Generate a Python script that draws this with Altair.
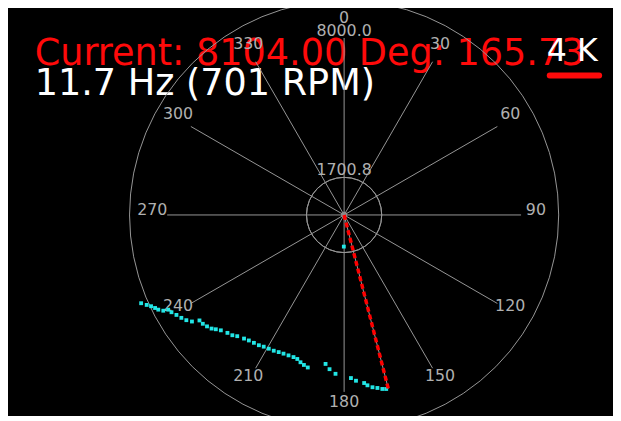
import math
import altair as alt
import pandas as pd

# ---------------- data ----------------
spoke_angles = [0, 30, 60, 90, 120, 150, 180, 210, 240, 270, 300, 330]
spoke_labels = ["0", "30", "60", "90", "120", "150", "180", "210", "240", "270", "300", "330"]
ring_values = [1700.8, 8000.0]
ring_labels = ["1700.8", "8000.0"]

point_angles = [246.5, 245.5, 244.7, 243.8, 243.0, 242.1, 241.7, 240.6, 239.2, 237.7,
                236.3, 235.0, 233.9, 232.4, 230.9, 229.4, 228.3, 226.9, 224.7, 222.9,
                221.4, 219.0, 217.2, 215.2, 213.2, 211.4, 209.4, 207.4, 205.5, 203.6,
                201.6, 199.6, 198.0, 196.5, 195.0, 193.4, 187.1, 185.4, 183.1, 177.6,
                175.9, 173.2, 172.2, 170.65, 169.1, 167.6, 166.4, 180.5]
point_radii = [10006, 9808, 9654, 9525, 9428, 9250, 9032, 8958, 8825, 8705,
               8573, 8398, 8093, 8063, 7987, 7892, 7768, 7633, 7499, 7423,
               7306, 7190, 7123, 7074, 7038, 6976, 6940, 6913, 6869, 6842,
               6828, 6820, 6846, 6945, 7020, 7088, 6787, 7003, 7192, 7380,
               7514, 7652, 7773, 7894, 7965, 8054, 8094, 1430]

needle_angle = [165.73]
needle_radius = [8104.0]

title_text = ["Current: 8104.00 Deg: 165.73"]
freq_text = ["11.7 Hz (701 RPM)"]
badge_text = ["4 K"]

# ---------------- layout ----------------
W, H = 612, 408
CX, CY = 340, 207          # polar centre inside the plot area (px)
R_PX = 179                 # pixel radius of the outer ring
R_MAX = 8000.0
K = R_MAX / R_PX
LABEL_R = 194 * K
FONT = "DejaVu Sans"
GRID = "#979797"
LABEL = "#b0b0b0"
CYAN = "#22e6e6"

xs = alt.Scale(domain=[-CX * K, (W - CX) * K], nice=False, zero=False)
ys = alt.Scale(domain=[-(H - CY) * K, CY * K], nice=False, zero=False)

POLX = "datum.r * sin(datum.a * PI / 180)"
POLY = "datum.r * cos(datum.a * PI / 180)"

spokes_df = pd.DataFrame({"a": spoke_angles, "r": [R_MAX] * len(spoke_angles)})
spoke_lab_df = pd.DataFrame({"a": spoke_angles, "r": [LABEL_R] * len(spoke_angles), "t": spoke_labels})
rings_df = pd.DataFrame({"r": ring_values, "t": ring_labels})
pts_df = pd.DataFrame({"a": point_angles, "r": point_radii})
needle_df = pd.DataFrame({"a": needle_angle, "r": needle_radius})

# texts (drawn underneath the polar grid)
title = alt.Chart(pd.DataFrame({"t": title_text})).mark_text(
    font=FONT, fontSize=37, color="#ff0a0a", align="left", baseline="alphabetic"
).encode(x=alt.value(27), y=alt.value(55), text="t:N")

freq = alt.Chart(pd.DataFrame({"t": freq_text})).mark_text(
    font=FONT, fontSize=37, color="white", align="left", baseline="alphabetic"
).encode(x=alt.value(27), y=alt.value(86), text="t:N")

rings = alt.Chart(rings_df).transform_calculate(cx="0", cy="0").mark_arc(
    fillOpacity=0, stroke=GRID, strokeWidth=1
).encode(
    x=alt.X("cx:Q", scale=xs, axis=None),
    y=alt.Y("cy:Q", scale=ys, axis=None),
    theta=alt.value(0),
    theta2=alt.value(2 * math.pi),
    radius=alt.Radius("r:Q", scale=alt.Scale(type="linear", domain=[0, R_MAX], range=[0, R_PX])),
)

spokes = alt.Chart(spokes_df).transform_calculate(
    x=POLX, y=POLY, x0="0", y0="0"
).mark_rule(color=GRID, strokeWidth=1).encode(
    x=alt.X("x0:Q", scale=xs, axis=None),
    y=alt.Y("y0:Q", scale=ys, axis=None),
    x2="x:Q",
    y2="y:Q",
)

spoke_labels_layer = alt.Chart(spoke_lab_df).transform_calculate(
    x=POLX, y=POLY
).mark_text(font=FONT, fontSize=16, color=LABEL, align="center", baseline="alphabetic").encode(
    x=alt.X("x:Q", scale=xs, axis=None),
    y=alt.Y("y:Q", scale=ys, axis=None),
    text="t:N",
)

ring_labels_layer = alt.Chart(rings_df).transform_calculate(x="0", y="datum.r").mark_text(
    font=FONT, fontSize=16, color=LABEL, align="center", baseline="alphabetic", dy=-2
).encode(
    x=alt.X("x:Q", scale=xs, axis=None),
    y=alt.Y("y:Q", scale=ys, axis=None),
    text="t:N",
)

centre = alt.Chart(pd.DataFrame({"x": [0], "y": [0]})).mark_circle(
    color="#8a8a8a", size=40, opacity=1
).encode(x=alt.X("x:Q", scale=xs, axis=None), y=alt.Y("y:Q", scale=ys, axis=None))

points = alt.Chart(pts_df).transform_calculate(x=POLX, y=POLY).mark_square(
    color=CYAN, size=15, opacity=1
).encode(x=alt.X("x:Q", scale=xs, axis=None), y=alt.Y("y:Q", scale=ys, axis=None))

needle_base = alt.Chart(needle_df).transform_calculate(x=POLX, y=POLY, x0="0", y0="0")
needle_grey = needle_base.mark_rule(color="#9a9a9a", strokeWidth=1).encode(
    x=alt.X("x0:Q", scale=xs, axis=None), y=alt.Y("y0:Q", scale=ys, axis=None),
    x2="x:Q", y2="y:Q",
)
needle_red = needle_base.mark_rule(color="#ff0000", strokeWidth=3.5, strokeDash=[5, 3]).encode(
    x=alt.X("x0:Q", scale=xs, axis=None), y=alt.Y("y0:Q", scale=ys, axis=None),
    x2="x:Q", y2="y:Q",
)

badge = alt.Chart(pd.DataFrame({"t": badge_text})).mark_text(
    font=FONT, fontSize=32, color="white", align="left", baseline="alphabetic"
).encode(x=alt.value(545), y=alt.value(51), text="t:N")

underline = alt.Chart(pd.DataFrame({"t": badge_text})).mark_rule(
    color="#ff0a0a", strokeWidth=6, strokeCap="round"
).encode(x=alt.value(548), x2=alt.value(598), y=alt.value(66))

chart = alt.layer(
    title, freq, rings, spokes, spoke_labels_layer, ring_labels_layer, centre,
    points, needle_grey, needle_red, badge, underline
).properties(
    width=W, height=H, background="black", padding=0,
    autosize=alt.AutoSizeParams(type="none"),
).configure_view(strokeWidth=0)

chart.save("out.html", embed_options={"renderer": "svg", "actions": False})
